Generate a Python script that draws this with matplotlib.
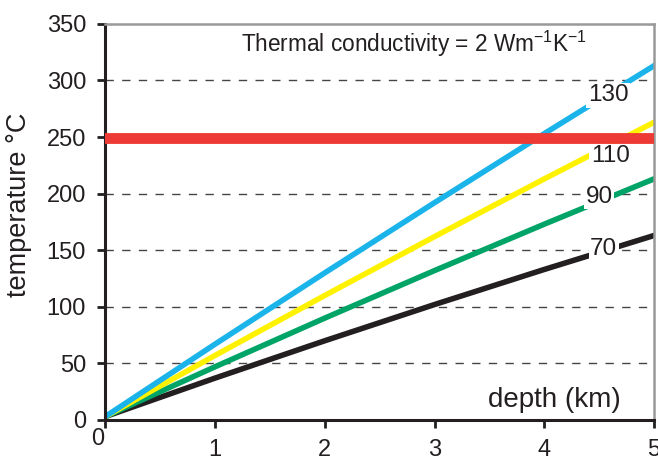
import numpy as np
import matplotlib
import matplotlib.pyplot as plt
matplotlib.use('Agg')

plt.rcParams['font.family'] = ['Liberation Sans', 'DejaVu Sans']
plt.rcParams['mathtext.fontset'] = 'custom'
plt.rcParams['mathtext.rm'] = 'Liberation Sans'

# Tiefe (km) und Temperaturen (°C)
depth = [0, 1, 2, 3, 4, 5]
t130 = [3, 67, 130, 192, 253, 313]
t110 = [3, 57, 110, 162, 213, 263]
t90 = [3, 47, 90, 132, 173, 213]
t70 = [3, 37, 70, 102, 133, 163]
labels = ['130', '110', '90', '70']
label_x = [4.58, 4.6, 4.5, 4.54]
label_y = [287, 233, 197, 151]
red_level = 249
xticks = [0, 1, 2, 3, 4, 5]
yticks = [0, 50, 100, 150, 200, 250, 300, 350]

fig = plt.figure(figsize=(6.58, 4.58), dpi=100)
ax = fig.add_axes([0.16, 0.083, 0.834, 0.865])

for y in yticks[1:-1]:
    ax.axhline(y, color='#444444', lw=1, dashes=(6, 6), zorder=1)

ax.plot(depth, t70, color='#231f20', lw=4, zorder=2)
ax.plot(depth, t90, color='#00a466', lw=4, zorder=2)
ax.plot(depth, t110, color='#fff200', lw=4, zorder=2)
ax.plot(depth, t130, color='#1ab4ea', lw=4, zorder=2)
ax.axhline(red_level, color='#ee3a34', lw=7.8, zorder=3)

for lab, x, y in zip(labels, label_x, label_y):
    ax.text(x, y, lab, fontsize=17.5, ha='center', va='center', zorder=4,
            color='#231f20', bbox=dict(facecolor='white', edgecolor='none', pad=1))

ax.text(0.562, 0.95, r'Thermal conductivity = 2 Wm$\mathregular{^{-1}}$K$\mathregular{^{-1}}$',
        transform=ax.transAxes, fontsize=16.3, ha='center', va='center', color='#231f20')
ax.text(0.94, 0.05, 'depth (km)', transform=ax.transAxes, fontsize=20,
        ha='right', va='center', color='#231f20')
ax.set_ylabel('temperature °C', fontsize=19.5, color='#231f20')
ax.yaxis.set_label_coords(-0.133, 0.543)

ax.set_xlim(0, 5)
ax.set_ylim(0, 350)
ax.set_xticks(xticks)
ax.set_xticklabels([''] + [str(v) for v in xticks[1:]])
ax.set_yticks(yticks)
ax.tick_params(labelsize=17, length=5.8, width=2, colors='#231f20', direction='out', pad=8)
# die 0 der x-Achse sitzt etwas höher und weiter links
ax.annotate('0', xy=(xticks[0], 0), xycoords='data', xytext=(-8, -19),
            textcoords='offset pixels', fontsize=17, ha='center', va='center', color='#231f20')
for s in ['left', 'bottom']:
    ax.spines[s].set_linewidth(2.2)
    ax.spines[s].set_color('#231f20')
for s in ['top', 'right']:
    ax.spines[s].set_linewidth(1.8)
    ax.spines[s].set_color('#999999')

fig.savefig('out.png', dpi=100)
